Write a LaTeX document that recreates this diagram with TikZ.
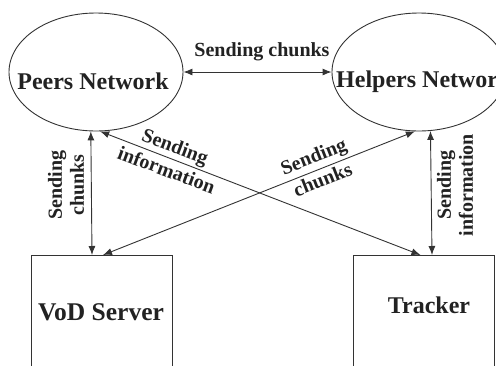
\documentclass[tikz,border=0pt]{standalone}
\usepackage{fontspec}
\setmainfont{Liberation Serif}
\usetikzlibrary{arrows.meta,shapes.geometric}
\definecolor{ink}{HTML}{333333}
\definecolor{txt}{HTML}{222222}
\tikzset{
  net/.style={draw=ink, line width=0.9pt, ellipse, inner sep=0pt,
    minimum width=174pt, minimum height=118pt},
  unit/.style={draw=ink, line width=0.9pt, rectangle, inner sep=0pt,
    minimum width=141pt, minimum height=160pt, anchor=north},
  bigtext/.style={text=txt, inner sep=0pt, font=\fontsize{24}{28}\selectfont\bfseries},
  lbl/.style={text=txt, inner sep=0pt, align=center,
    font=\fontsize{20}{22}\selectfont\bfseries},
  slopelbl/.style={lbl, font=\fontsize{20}{25}\selectfont\bfseries},
  link/.style={draw=ink, line width=0.9pt,
    {Latex[length=9pt,width=7pt]}-{Latex[length=9pt,width=7pt]}}
}
\begin{document}
\begin{tikzpicture}[x=1pt,y=-1pt]
  \useasboundingbox (0,0) rectangle (496,365);
  \clip (0,0) rectangle (496,365);
  \fill[white] (0,0) rectangle (496,365);

  % the two overlay networks
  \node[net] (peers) at (96,72) {};
  \node[net] (helpers) at (419,72) {};
  \node[bigtext] (peerstext) at (93,81) {Peers Network};
  \node[bigtext, anchor=west] (helperstext) at (336,82) {Helpers Network};

  % server and tracker
  \node[unit] (vod) at (101.5,255) {};
  \node[unit] (tracker) at (423.5,255) {};
  \node[bigtext, font=\fontsize{25.5}{28}\selectfont\bfseries] (vodtext) at (101,312) {VoD Server};
  \node[bigtext] (trackertext) at (429,305) {Tracker};

  % connectors
  \draw[link] (peers.east) -- (helpers.west);
  \draw[link] (peers.-95.8) -- ([xshift=-9.5pt]vod.north);
  \draw[link] (helpers.-79.4) -- ([xshift=8.5pt]tracker.north);
  \draw[link] (peers.-86) -- ([xshift=-3pt]tracker.north);
  \draw[link] (helpers.-94) -- ([xshift=1.5pt]vod.north);

  % connector labels
  \node[lbl] (lchunks) at (262,52) {Sending chunks};
  \node[lbl, rotate=90] (lvod) at (66,185) {Sending\\chunks};
  \node[lbl, rotate=90] (ltracker) at (455,185) {Sending\\information};
  \node[slopelbl, rotate=-20.4] (linfo) at (171,158) {Sending\\information};
  \node[slopelbl, rotate=21.4] (lchunks2) at (318,168) {Sending\\chunks};
\end{tikzpicture}
\end{document}
